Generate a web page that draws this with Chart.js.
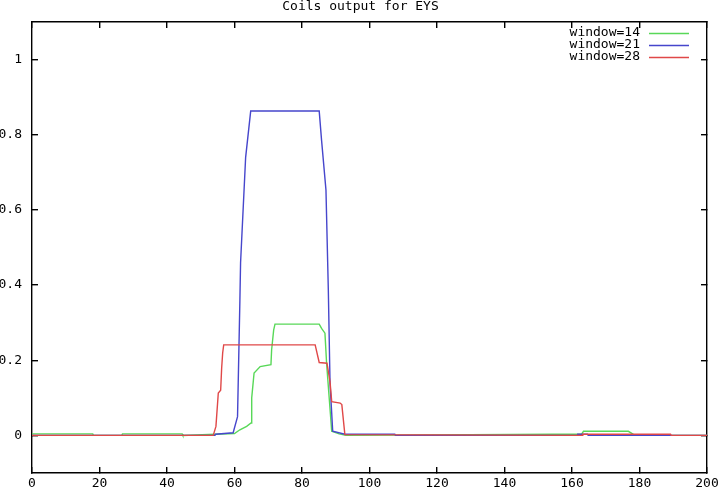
<!DOCTYPE html>
<html>
<head>
<meta charset="utf-8">
<script src="https://cdn.jsdelivr.net/npm/chart.js@4/dist/chart.umd.min.js"></script>
<style>
  html, body { margin: 0; padding: 0; background: #fff; }
  #wrap { width: 721px; height: 490px; }
</style>
</head>
<body>
<div id="wrap"><canvas id="chart"></canvas></div>
<script>
const TITLE = 'Coils output for EYS';
const FONT = 'DejaVu Sans Mono';
const LINE_W = 1.4;

const xTicks = [0, 20, 40, 60, 80, 100, 120, 140, 160, 180, 200];
const yTicks = [0, 0.2, 0.4, 0.6, 0.8, 1];
const yTickLabels = ['0', '0.2', '0.4', '0.6', '0.8', '1'];

// window=14
const green14X = [0, 18, 18.2, 26.6, 26.8, 44.5, 44.7, 60, 61.6, 63.6, 64.9, 65.1, 65.8, 67.6, 70.8, 71, 71.6, 72, 85.1, 85.8, 86.8, 87.3, 88.1, 88.8, 91, 93, 154, 162.8, 163.4, 176.7, 178.2, 179, 200];
const green14Y = [0.004, 0.004, 0, 0, 0.004, 0.004, 0, 0.005, 0.015, 0.024, 0.033, 0.1, 0.166, 0.183, 0.188, 0.228, 0.28, 0.296, 0.296, 0.285, 0.272, 0.19, 0.095, 0.011, 0.004, 0, 0.003, 0.003, 0.011, 0.011, 0.003, 0, 0];

// window=21
const blue21X = [0, 54.2, 54.4, 59.6, 60.9, 61.6, 61.8, 63.3, 64.8, 85.1, 85.8, 87.1, 87.8, 88.3, 89.1, 92.7, 107.5, 107.7, 161.5, 161.7, 164.6, 164.8, 200];
const blue21Y = [0, 0, 0.003, 0.007, 0.05, 0.36, 0.46, 0.74, 0.863, 0.863, 0.785, 0.653, 0.387, 0.14, 0.011, 0.003, 0.003, 0, 0, 0.003, 0.003, 0, 0];

// window=28
const red28X = [0, 53.7, 54.5, 55.2, 55.9, 56.2, 56.5, 56.8, 83.9, 85.1, 87.4, 88.3, 88.8, 91.3, 91.8, 92.7, 163, 163.2, 189.2, 189.4, 200];
const red28Y = [0, 0, 0.024, 0.113, 0.12, 0.18, 0.22, 0.241, 0.241, 0.194, 0.192, 0.143, 0.09, 0.086, 0.082, 0.002, 0, 0.003, 0.003, 0, 0];

function points(xs, ys) {
  return xs.map((x, i) => ({ x, y: ys[i] }));
}

function line(label, xs, ys, color, order) {
  return {
    label,
    data: points(xs, ys),
    borderColor: color,
    borderWidth: LINE_W,
    pointRadius: 0,
    tension: 0,
    fill: false,
    order,
  };
}

// inward tick marks (negative length) and a black frame line on every side
const inwardGrid = { display: true, drawOnChartArea: false, drawTicks: true, tickLength: -6, color: '#000', lineWidth: LINE_W };
const frameBorder = { display: true, color: '#000', width: LINE_W };

function axis(position, min, max, values, extra) {
  const horizontal = position === 'top' || position === 'bottom';
  return Object.assign({
    type: 'linear',
    position,
    min,
    max,
    grid: inwardGrid,
    border: frameBorder,
    afterBuildTicks: s => { s.ticks = values.map(v => ({ value: v })); },
  }, extra, {
    afterFit: s => {
      if (horizontal) { s.paddingLeft = 0; s.paddingRight = 0; }
      else { s.paddingTop = 0; s.paddingBottom = 0; }
      if (extra.size !== undefined) {
        if (horizontal) s.height = extra.size; else s.width = extra.size;
      }
    },
  });
}

// gnuplot-like key: label right-aligned, then a short line sample
const key = {
  id: 'key',
  afterDraw(chart) {
    const { ctx, chartArea: a } = chart;
    const r = Math.round(a.right), top = Math.round(a.top);
    ctx.save();
    ctx.font = '13px "' + FONT + '"';
    ctx.textAlign = 'right';
    ctx.textBaseline = 'middle';
    chart.data.datasets.forEach((ds, i) => {
      const y = top + 11 + i * 12;
      ctx.fillStyle = '#000';
      ctx.fillText(ds.label, r - 67, y);
      ctx.strokeStyle = ds.borderColor;
      ctx.lineWidth = LINE_W;
      ctx.beginPath();
      ctx.moveTo(r - 58, y + 0.5);
      ctx.lineTo(r - 18, y + 0.5);
      ctx.stroke();
    });
    ctx.restore();
  },
};

const tickFont = { family: FONT, size: 13 };

new Chart(document.getElementById('chart'), {
  type: 'line',
  data: {
    datasets: [
      line('window=14', green14X, green14Y, '#58d858', 3),
      line('window=21', blue21X, blue21Y, '#4646cc', 2),
      line('window=28', red28X, red28Y, '#e04848', 1),
    ],
  },
  options: {
    responsive: true,
    maintainAspectRatio: false,
    animation: false,
    layout: { padding: 0 },
    plugins: {
      legend: { display: false },
      tooltip: { enabled: false },
      title: {
        display: true,
        text: TITLE,
        color: '#000',
        font: { family: FONT, size: 13, weight: 'normal', lineHeight: 1 },
        padding: { top: 0, bottom: 9 },
      },
    },
    scales: {
      x: axis('bottom', 0, 200, xTicks, {
        size: 17,
        ticks: { color: '#000', padding: 9, maxRotation: 0, autoSkip: false, font: tickFont, callback: v => String(v) },
      }),
      x2: axis('top', 0, 200, xTicks, {
        size: 0,
        ticks: { display: false },
      }),
      y: axis('left', -0.1, 1.1, yTicks, {
        size: 32,
        ticks: { color: '#000', padding: 16, autoSkip: false, font: tickFont, callback: v => yTickLabels[yTicks.indexOf(v)] },
      }),
      y2: axis('right', -0.1, 1.1, yTicks, {
        size: 14,
        ticks: { display: false },
      }),
    },
  },
  plugins: [key],
});
</script>
</body>
</html>
